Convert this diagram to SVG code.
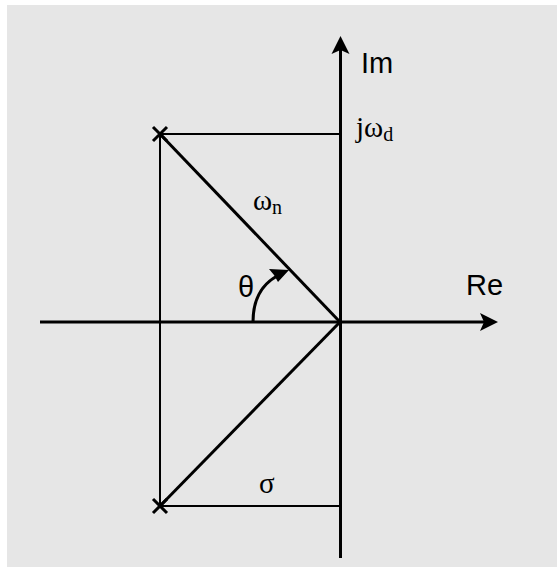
<svg xmlns="http://www.w3.org/2000/svg" width="557" height="567" viewBox="0 0 557 567">
<style>
.ax{stroke:#000;stroke-width:3;fill:none}
.thin{stroke:#000;stroke-width:2;fill:none}
.diag{stroke:#000;stroke-width:3;fill:none}
.sans{font-family:"Liberation Sans",Arial,sans-serif;font-size:29px;fill:#000}
.serif{font-family:"Liberation Serif","Times New Roman",serif;font-size:29px;fill:#000}
</style>
<rect x="0" y="0" width="557" height="567" fill="#ffffff"/>
<rect x="7" y="5" width="550" height="562" fill="#e6e6e6"/>
<g id="connectors">
  <line class="ax" x1="340.5" y1="558" x2="340.5" y2="48"/>
  <polygon points="340.5,36 349.5,54 340.5,50 331.5,54" fill="#000"/>
  <line class="ax" x1="40" y1="322" x2="486" y2="322"/>
  <polygon points="498,322 480,313 484,322 480,331" fill="#000"/>
  <line class="thin" x1="160" y1="134" x2="340" y2="134"/>
  <line class="thin" x1="160" y1="506" x2="340" y2="506"/>
  <line class="thin" x1="160" y1="134" x2="160" y2="506"/>
  <line class="diag" x1="160" y1="134" x2="340" y2="322"/>
  <line class="diag" x1="160" y1="506" x2="340" y2="322"/>
  <path class="ax" d="M253,322 C253,300 261,285 277,276"/>
  <polygon points="289,270 269,269 274,275 278,282" fill="#000"/>
</g>
<g id="pole-upper">
  <path class="ax" d="M153,127 L167,141 M167,127 L153,141"/>
</g>
<g id="pole-lower">
  <path class="ax" d="M153,499 L167,513 M167,499 L153,513"/>
</g>
<g id="label-im"><text class="sans" x="361" y="73">Im</text></g>
<g id="label-re"><text class="sans" x="466" y="295">Re</text></g>
<g id="label-theta"><text class="sans" x="238" y="297">θ</text></g>
<g id="label-jwd"><text class="serif" x="356" y="137">jω<tspan font-size="20" dy="4">d</tspan></text></g>
<g id="label-wn"><text class="serif" x="253" y="210">ω<tspan font-size="20" dy="4">n</tspan></text></g>
<g id="label-sigma"><text class="serif" x="259" y="493">σ</text></g>
</svg>
